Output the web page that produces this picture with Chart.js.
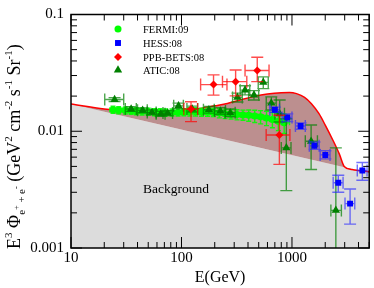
<!DOCTYPE html>
<html>
<head>
<meta charset="utf-8">
<script src="https://cdn.jsdelivr.net/npm/chart.js@4.4.1/dist/chart.umd.min.js"></script>
<style>
  html, body { margin: 0; padding: 0; background: #fff; }
</style>
</head>
<body>
<canvas id="c" width="374" height="288"></canvas>
<script>
var serif = "'Liberation Serif', 'DejaVu Serif', serif";

// axis ticks (inside ticks on all four sides)
var xTicks = [10, 20, 30, 40, 50, 60, 70, 80, 90, 100, 200, 300, 400, 500, 600, 700, 800, 900, 1000, 2000, 3000, 4000, 5000];
var yTicks = [0.001, 0.002, 0.003, 0.004, 0.005, 0.006, 0.007, 0.008, 0.009, 0.01, 0.02, 0.03, 0.04, 0.05, 0.06, 0.07, 0.08, 0.09, 0.1];
var xLabels = [10, 100, 1000];
var yLabels = [0.001, 0.01, 0.1];

// background power law
var bgE = [10, 5000];
var bgV = [0.0171, 0.0044];

// background + signal
var totE = [10, 20, 40, 70, 100, 150, 200, 260, 350, 450, 600, 800, 950, 1100, 1300, 1500, 1750, 2000, 2330, 2680, 2970, 3500, 5000];
var totV = [0.0171, 0.0155, 0.0148, 0.0147, 0.0150, 0.0157, 0.0165, 0.0173, 0.0187, 0.0198, 0.0208, 0.0214, 0.0215, 0.0210, 0.0195, 0.0172, 0.0142, 0.0113, 0.0085, 0.0064, 0.0050, 0.0047, 0.0045];

// FERMI:09
var fermiE = [24, 27, 31, 35, 39, 44, 50, 57, 64, 72, 82, 93, 105, 119, 134, 152, 172, 194, 220, 248, 281, 318, 360, 406, 460, 520, 588, 665, 753, 850];
var fermiV = [0.0153, 0.0152, 0.0151, 0.0150, 0.0149, 0.0148, 0.0147, 0.0146, 0.0146, 0.0145, 0.0145, 0.0145, 0.0146, 0.0147, 0.0147, 0.0146, 0.0146, 0.0145, 0.0143, 0.0141, 0.0140, 0.0139, 0.0138, 0.0137, 0.0135, 0.0133, 0.0130, 0.0126, 0.0122, 0.0118];
var fermiELo = [22.5, 25.5, 29, 33, 37, 41.5, 47, 53.5, 60.5, 68, 77, 87.5, 99, 112, 126, 143, 162, 183, 207, 234, 264, 299, 339, 383, 433, 490, 554, 626, 709, 800];
var fermiEHi = [25.5, 29, 33, 37, 41.5, 47, 53.5, 60.5, 68, 77, 87.5, 99, 112, 126, 143, 162, 183, 207, 234, 264, 299, 339, 383, 433, 490, 554, 626, 709, 800, 950];
var fermiErr = [0.07, 0.07, 0.07, 0.07, 0.07, 0.07, 0.07, 0.07, 0.07, 0.07, 0.07, 0.07, 0.07, 0.08, 0.08, 0.08, 0.08, 0.08, 0.09, 0.09, 0.09, 0.10, 0.10, 0.11, 0.12, 0.13, 0.14, 0.15, 0.17, 0.19];

// HESS:08
var hessE = [700, 907, 1197, 1597, 2004, 2625, 3357, 4335];
var hessV = [0.0153, 0.0131, 0.0111, 0.0075, 0.00627, 0.00362, 0.0024, 0.00461];
var hessELo = [630, 815, 1075, 1435, 1800, 2360, 3020, 3900];
var hessEHi = [770, 1000, 1320, 1760, 2210, 2900, 3700, 4780];
var hessVLo = [0.0145, 0.0121, 0.0104, 0.0070, 0.0058, 0.0030, 0.0016, 0.0038];
var hessVHi = [0.0161, 0.0141, 0.0118, 0.0081, 0.0068, 0.0042, 0.0032, 0.0054];

// PPB-BETS:08
var ppbE = [122, 195, 309, 485, 769];
var ppbV = [0.0155, 0.0251, 0.0266, 0.0331, 0.0093];
var ppbELo = [105, 149, 235, 376, 584];
var ppbEHi = [140, 258, 390, 620, 958];
var ppbVLo = [0.0121, 0.0204, 0.0201, 0.0266, 0.0052];
var ppbVHi = [0.0179, 0.0304, 0.0335, 0.0430, 0.0137];

// ATIC:08
var aticE = [24.8, 35, 44.5, 54, 65, 75, 94, 125, 177, 225, 276, 321, 376, 453, 550, 650, 774, 889, 1490, 2495];
var aticV = [0.0187, 0.0155, 0.0151, 0.0145, 0.0141, 0.0143, 0.0165, 0.0155, 0.0153, 0.0149, 0.0144, 0.0195, 0.0225, 0.0204, 0.0262, 0.0174, 0.0141, 0.0072, 0.0082, 0.0021];
var aticELo = [20.2, 31, 40, 49, 59, 68, 85, 112, 158, 200, 248, 290, 340, 405, 495, 585, 700, 800, 1320, 2250];
var aticEHi = [30, 39, 49, 59, 71, 83, 104, 140, 198, 250, 306, 355, 415, 500, 610, 720, 855, 980, 1700, 2800];
var aticVLo = [0.0180, 0.0148, 0.0144, 0.0138, 0.0134, 0.0136, 0.0156, 0.0146, 0.0143, 0.0139, 0.0133, 0.0178, 0.0205, 0.0185, 0.0232, 0.0152, 0.0120, 0.0031, 0.0047, 0.0005];
var aticVHi = [0.0194, 0.0162, 0.0158, 0.0152, 0.0148, 0.0150, 0.0174, 0.0164, 0.0163, 0.0159, 0.0155, 0.0212, 0.0245, 0.0223, 0.0292, 0.0197, 0.0185, 0.0128, 0.0113, 0.0072];

function pts(xs, ys) {
  return xs.map(function (x, i) { return { x: x, y: ys[i] }; });
}

// error bars, keyed by dataset label
var bars = {
  "FERMI:09": { color: "rgba(0,255,0,0.9)", cap: 2.5, x: fermiE, y: fermiV, xLo: fermiELo, xHi: fermiEHi,
    yLo: fermiV.map(function (v, i) { return v * (1 - fermiErr[i]); }),
    yHi: fermiV.map(function (v, i) { return v * (1 + fermiErr[i]); }) },
  "HESS:08": { color: "rgba(40,40,255,0.65)", cap: 6, x: hessE, y: hessV, xLo: hessELo, xHi: hessEHi, yLo: hessVLo, yHi: hessVHi },
  "PPB-BETS:08": { color: "rgba(255,0,0,0.7)", cap: 6, x: ppbE, y: ppbV, xLo: ppbELo, xHi: ppbEHi, yLo: ppbVLo, yHi: ppbVHi },
  "ATIC:08": { color: "rgba(0,128,0,0.7)", cap: 6, x: aticE, y: aticV, xLo: aticELo, xHi: aticEHi, yLo: aticVLo, yHi: aticVHi },
};

var errorBars = {
  id: "errorBars",
  beforeDatasetDraw: function (chart, args) {
    var e = bars[chart.data.datasets[args.index].label];
    if (!e) return;
    var sx = chart.scales.x, sy = chart.scales.y, ctx = chart.ctx, a = chart.chartArea;
    ctx.save();
    ctx.beginPath();
    ctx.rect(a.left, a.top, a.right - a.left, a.bottom - a.top);
    ctx.clip();
    ctx.strokeStyle = e.color;
    ctx.lineWidth = 1.4;
    var c = e.cap;
    for (var i = 0; i < e.x.length; i++) {
      var px = sx.getPixelForValue(e.x[i]), py = sy.getPixelForValue(e.y[i]);
      var x0 = sx.getPixelForValue(e.xLo[i]), x1 = sx.getPixelForValue(e.xHi[i]);
      var y0 = sy.getPixelForValue(e.yLo[i]), y1 = sy.getPixelForValue(e.yHi[i]);
      ctx.beginPath();
      ctx.moveTo(x0, py); ctx.lineTo(x1, py);
      ctx.moveTo(px, y0); ctx.lineTo(px, y1);
      ctx.moveTo(x0, py - c); ctx.lineTo(x0, py + c);
      ctx.moveTo(x1, py - c); ctx.lineTo(x1, py + c);
      ctx.moveTo(px - c, y0); ctx.lineTo(px + c, y0);
      ctx.moveTo(px - c, y1); ctx.lineTo(px + c, y1);
      ctx.stroke();
    }
    ctx.restore();
  }
};

function isDecade(v) {
  var l = Math.log10(v);
  return Math.abs(l - Math.round(l)) < 1e-6;
}

function marker(ctx, style, x, y, r) {
  ctx.beginPath();
  if (style === "circle") {
    ctx.arc(x, y, r, 0, Math.PI * 2);
  } else if (style === "rect") {
    var s = r * Math.SQRT1_2;
    ctx.rect(x - s, y - s, 2 * s, 2 * s);
  } else if (style === "rectRot") {
    ctx.moveTo(x, y - r); ctx.lineTo(x + r, y); ctx.lineTo(x, y + r); ctx.lineTo(x - r, y);
    ctx.closePath();
  } else {
    ctx.moveTo(x, y - r);
    ctx.lineTo(x + r * 0.866, y + r * 0.5);
    ctx.lineTo(x - r * 0.866, y + r * 0.5);
    ctx.closePath();
  }
  ctx.fill();
}

var frame = {
  id: "frame",
  afterDraw: function (chart) {
    var ctx = chart.ctx, a = chart.chartArea, sx = chart.scales.x, sy = chart.scales.y;
    ctx.save();
    ctx.strokeStyle = "#000";
    ctx.lineWidth = 1;
    ctx.beginPath();
    xTicks.forEach(function (v) {
      var p = sx.getPixelForValue(v), len = isDecade(v) ? 11 : 6;
      ctx.moveTo(p, a.bottom); ctx.lineTo(p, a.bottom - len);
      ctx.moveTo(p, a.top); ctx.lineTo(p, a.top + len);
    });
    yTicks.forEach(function (v) {
      var p = sy.getPixelForValue(v), len = isDecade(v) ? 11 : 6;
      ctx.moveTo(a.left, p); ctx.lineTo(a.left + len, p);
      ctx.moveTo(a.right, p); ctx.lineTo(a.right - len, p);
    });
    ctx.stroke();
    ctx.lineWidth = 1.5;
    ctx.strokeRect(a.left, a.top, a.right - a.left, a.bottom - a.top);

    // legend
    var items = [
      ["FERMI:09", "circle", "#00ff00", 3.5],
      ["HESS:08", "rect", "#0000ff", 4.2],
      ["PPB-BETS:08", "rectRot", "#ff0000", 4],
      ["ATIC:08", "triangle", "#008000", 4.8]
    ];
    var ly = [29, 43, 57, 70];
    ctx.font = "10.5px " + serif;
    ctx.textBaseline = "middle";
    ctx.textAlign = "left";
    items.forEach(function (it, i) {
      ctx.fillStyle = it[2];
      marker(ctx, it[1], 118, ly[i], it[3]);
      ctx.fillStyle = "#000";
      ctx.fillText(it[0], 143, ly[i] + 1);
    });

    ctx.font = "13.5px " + serif;
    ctx.fillText("Background", 143, 189);

    // y axis title with super/subscripts
    var parts = [
      ["E", 0, 18], ["3", -8, 11], [" \u03A6", 0, 18], ["e", 5, 11], ["+", -1, 8.5], [" + ", 5, 10.5],
      ["e", 5, 11], ["-", -1, 8.5], [" (GeV", 0, 18], ["2", -8, 11], [" cm", 0, 18], ["-2", -8, 11],
      [" s", 0, 18], ["-1", -8, 11], [" Sr", 0, 18], ["-1", -8, 11], [")", 0, 18]
    ];
    ctx.translate(20, 249);
    ctx.rotate(-Math.PI / 2);
    ctx.textBaseline = "alphabetic";
    var u = 0;
    parts.forEach(function (p) {
      ctx.font = p[2] + "px " + serif;
      ctx.fillText(p[0], u, p[1]);
      u += ctx.measureText(p[0]).width;
    });
    ctx.restore();
  }
};

new Chart(document.getElementById("c"), {
  type: "line",
  data: {
    datasets: [
      { label: "Background", data: pts(bgE, bgV), showLine: true, borderColor: "rgba(0,0,0,0)", borderWidth: 1,
        pointRadius: 0, fill: "start", backgroundColor: "#dcdcdc", order: 7 },
      { label: "Total", data: pts(totE, totV), showLine: true, borderColor: "#ff0000", borderWidth: 1.5,
        pointRadius: 0, cubicInterpolationMode: "monotone",
        fill: { target: 0, above: "#bc8f8f", below: "#bc8f8f" }, order: 6 },
      { label: "FERMI:09", data: pts(fermiE, fermiV), showLine: false, pointStyle: "circle", pointRadius: 3.5,
        backgroundColor: "#00ff00", borderColor: "#00ff00", borderWidth: 0, order: 5 },
      { label: "ATIC:08", data: pts(aticE, aticV), showLine: false, pointStyle: "triangle", pointRadius: 4.8,
        backgroundColor: "#008000", borderColor: "#008000", borderWidth: 0, order: 4 },
      { label: "HESS:08", data: pts(hessE, hessV), showLine: false, pointStyle: "rect", pointRadius: 4.2,
        backgroundColor: "#0000ff", borderColor: "#0000ff", borderWidth: 0, order: 3 },
      { label: "PPB-BETS:08", data: pts(ppbE, ppbV), showLine: false, pointStyle: "rectRot", pointRadius: 4,
        backgroundColor: "#ff0000", borderColor: "#ff0000", borderWidth: 0, order: 2 }
    ]
  },
  options: {
    responsive: false,
    animation: false,
    events: [],
    layout: { padding: { top: 8, right: 2, left: 0, bottom: 0 } },
    plugins: { legend: { display: false }, tooltip: { enabled: false } },
    scales: {
      x: {
        type: "logarithmic", min: 10, max: 5000,
        grid: { display: false, drawTicks: false, tickLength: 0 },
        border: { display: false },
        afterBuildTicks: function (s) { s.ticks = xTicks.map(function (v) { return { value: v }; }); },
        ticks: {
          autoSkip: false, maxRotation: 0, padding: 3, color: "#000",
          font: { family: serif, size: 15, lineHeight: 1 },
          callback: function (v) { return xLabels.indexOf(v) >= 0 ? String(v) : ""; }
        },
        title: { display: true, text: "E(GeV)", color: "#000", font: { family: serif, size: 16 }, padding: { top: 0, bottom: 1 } },
        afterFit: function (s) { s.height = 40; }
      },
      y: {
        type: "logarithmic", min: 0.001, max: 0.1,
        grid: { display: false, drawTicks: false, tickLength: 0 },
        border: { display: false },
        afterBuildTicks: function (s) { s.ticks = yTicks.map(function (v) { return { value: v }; }); },
        ticks: {
          autoSkip: false, padding: 7, color: "#000",
          font: { family: serif, size: 15, lineHeight: 1 },
          callback: function (v) { return yLabels.indexOf(v) >= 0 ? String(v) : ""; }
        },
        afterFit: function (s) { s.width = 71; }
      }
    }
  },
  plugins: [errorBars, frame]
});
</script>
</body>
</html>
